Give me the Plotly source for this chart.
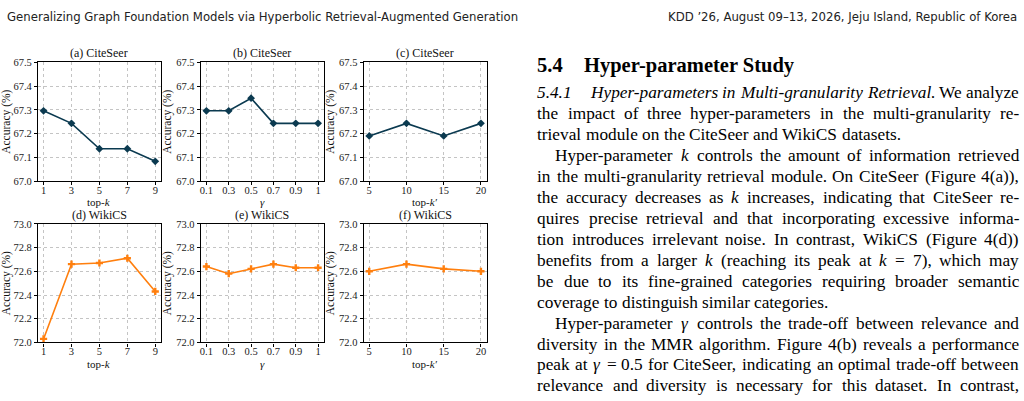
import plotly.graph_objects as go

W, H = 1024, 401

# ---------------- data ----------------
topk = ["1", "3", "5", "7", "9"]
gamma = ["0.1", "0.3", "0.5", "0.7", "0.9", "1"]
topk2 = ["5", "10", "15", "20"]

cite_topk = [67.296, 67.243, 67.136, 67.136, 67.083]
cite_gamma = [67.296, 67.296, 67.349, 67.243, 67.243, 67.243]
cite_topk2 = [67.19, 67.243, 67.19, 67.243]

wiki_topk = [72.03, 72.66, 72.67, 72.71, 72.43]
wiki_gamma = [72.64, 72.58, 72.62, 72.66, 72.63, 72.63]
wiki_topk2 = [72.60, 72.66, 72.62, 72.60]

panel_titles = ["(a) CiteSeer", "(b) CiteSeer", "(c) CiteSeer",
                "(d) WikiCS", "(e) WikiCS", "(f) WikiCS"]
x_titles = ["top-<i>k</i>", "<i>γ</i>", "top-<i>k′</i>"]
y_title = "Accuracy (%)"
y_ranges = [[67.0, 67.5], [72.0, 73.0]]
y_dticks = [0.1, 0.2]

header_left = "Generalizing Graph Foundation Models via Hyperbolic Retrieval-Augmented Generation"
header_right = "KDD ’26, August 09–13, 2026, Jeju Island, Republic of Korea"

heading_num = "5.4"
heading_txt = "Hyper-parameter Study"
sub_num = "5.4.1"

def it(s):
    return " ".join("<i>%s</i>" % w for w in s.split(" "))

# (text, indent flag, justify flag)
body = [
    (it("Hyper-parameters in Multi-granularity Retrieval.") + " We analyze", "sub", True),
    ("the impact of three hyper-parameters in the multi-granularity re-", "", True),
    ("trieval module on the CiteSeer and WikiCS datasets.", "", False),
    ("Hyper-parameter <i>k</i> controls the amount of information retrieved", "ind", True),
    ("in the multi-granularity retrieval module. On CiteSeer (Figure 4(a)),", "", True),
    ("the accuracy decreases as <i>k</i> increases, indicating that CiteSeer re-", "", True),
    ("quires precise retrieval and that incorporating excessive informa-", "", True),
    ("tion introduces irrelevant noise. In contrast, WikiCS (Figure 4(d))", "", True),
    ("benefits from a larger <i>k</i> (reaching its peak at <i>k</i> = 7), which may", "", True),
    ("be due to its fine-grained categories requiring broader semantic", "", True),
    ("coverage to distinguish similar categories.", "", False),
    ("Hyper-parameter <i>γ</i> controls the trade-off between relevance and", "ind", True),
    ("diversity in the MMR algorithm. Figure 4(b) reveals a performance", "", True),
    ("peak at <i>γ</i> = 0.5 for CiteSeer, indicating an optimal trade-off between", "", True),
    ("relevance and diversity is necessary for this dataset. In contrast,", "", True),
]

# ---------------- style / geometry ----------------
SERIF = "Liberation Serif"
NAVY = "#0b3a50"
ORANGE = "#ff7f0e"
colors = [NAVY, ORANGE]
symbols = ["diamond", "cross"]
col_left = [37, 200, 363]
col_w = 123
row_top = [59, 225]
row_h = 122

xcats = [topk, gamma, topk2]
series = [[cite_topk, cite_gamma, cite_topk2], [wiki_topk, wiki_gamma, wiki_topk2]]

fig = go.Figure()
layout = {}
annotations = []

for r in range(2):
    for c in range(3):
        i = r * 3 + c + 1
        xs = xcats[c]
        ys = series[r][c]
        n = len(xs)
        fig.add_trace(go.Scatter(
            x=xs, y=ys, mode="lines+markers",
            line=dict(color=colors[r], width=1.6),
            marker=dict(symbol=symbols[r], size=6, color=colors[r]),
            xaxis="x%d" % i, yaxis="y%d" % i, showlegend=False, cliponaxis=False))
        x0 = col_left[c] / W
        x1 = (col_left[c] + col_w) / W
        y1 = 1 - row_top[r] / H
        y0 = 1 - (row_top[r] + row_h) / H
        pad = 0.05 * (n - 1)
        common = dict(showline=True, mirror=True, linecolor="black", linewidth=1.2,
                      ticks="outside", ticklen=3, tickwidth=1, tickcolor="black",
                      showgrid=True, gridcolor="#c4c4c4", griddash="dot", gridwidth=1,
                      zeroline=False, tickfont=dict(family=SERIF, size=10.5, color="#222"))
        xa = dict(common, domain=[x0, x1], anchor="y%d" % i, type="category",
                  categoryorder="array", categoryarray=xs,
                  range=[-pad, n - 1 + pad], ticklabelstandoff=-4)
        ya = dict(common, domain=[y0, y1], anchor="x%d" % i, range=y_ranges[r],
                  dtick=y_dticks[r], tick0=y_ranges[r][0], tickformat=".1f",
                  title=dict(text=y_title, font=dict(family=SERIF, size=11.5, color="#111"),
                             standoff=2))
        layout["xaxis" if i == 1 else "xaxis%d" % i] = xa
        layout["yaxis" if i == 1 else "yaxis%d" % i] = ya
        annotations.append(dict(text=panel_titles[i - 1], x=(x0 + x1) / 2, y=y1,
                                xref="paper", yref="paper", xanchor="center", yanchor="bottom",
                                yshift=0, showarrow=False,
                                font=dict(family=SERIF, size=12, color="#111")))
        annotations.append(dict(text=x_titles[c], x=(x0 + x1) / 2,
                                y=1 - (row_top[r] + row_h + 22) / H,
                                xref="paper", yref="paper", xanchor="center", yanchor="middle",
                                showarrow=False, borderpad=0,
                                font=dict(family=SERIF, size=11, color="#111")))

# ---------------- text column (justified, Times metrics) ----------------
ROMAN = dict(zip(" !\"#$%&'()*+,-./0123456789:;<=>?",
                 [250, 333, 408, 500, 500, 833, 778, 333, 333, 333, 500, 564, 250, 333, 250, 278,
                  500, 500, 500, 500, 500, 500, 500, 500, 500, 500, 278, 278, 564, 564, 564, 444]))
ROMAN.update(dict(zip("ABCDEFGHIJKLMNOPQRSTUVWXYZ",
                      [722, 667, 667, 722, 611, 556, 722, 722, 333, 389, 722, 611, 889, 722, 722,
                       556, 722, 667, 556, 611, 722, 722, 944, 722, 722, 611])))
ROMAN.update(dict(zip("abcdefghijklmnopqrstuvwxyz",
                      [444, 500, 444, 500, 444, 333, 500, 500, 278, 278, 500, 278, 778, 500, 500,
                       500, 500, 333, 389, 278, 500, 500, 722, 500, 500, 444])))
ROMAN["γ"] = 411
ITALIC = dict(ROMAN)
ITALIC.update(dict(zip("ABCDEFGHIJKLMNOPQRSTUVWXYZ",
                       [611, 611, 667, 722, 611, 611, 722, 722, 333, 444, 667, 556, 833, 667, 722,
                        611, 722, 611, 500, 556, 722, 611, 833, 611, 556, 556])))
ITALIC.update(dict(zip("abcdefghijklmnopqrstuvwxyz",
                       [500, 500, 444, 500, 444, 278, 500, 500, 278, 278, 444, 278, 722, 500, 500,
                        500, 500, 389, 389, 278, 500, 444, 667, 444, 444, 389])))
ITALIC["γ"] = 440
ITALIC["-"] = 333


def width_em(word):
    w = 0
    itl = False
    k = 0
    while k < len(word):
        if word.startswith("<i>", k):
            itl = True
            k += 3
            continue
        if word.startswith("</i>", k):
            itl = False
            k += 4
            continue
        tab = ITALIC if itl else ROMAN
        w += tab.get(word[k], 500)
        k += 1
    if word.endswith("</i>"):
        w += 60  # italic correction
    return w / 1000.0


TX0, TX1 = 536, 1018
INDENT = 18
line_y0, line_dy = 90, 21.55
sub_em = width_em("<i>%s</i>" % sub_num)

# font size: as large as possible while every justified line keeps >= 0.2em spaces
FS = 18.5
for line, kind, just in body:
    if not just:
        continue
    words = line.split(" ")
    em = sum(width_em(w) for w in words) + 0.2 * (len(words) - 1)
    if kind == "sub":
        em += sub_em + 1.0
    avail = TX1 - TX0 - (INDENT if kind == "ind" else 0)
    FS = min(FS, avail / em)


def txt(s, xpx, ypx, size, anchor="left", family=SERIF, color="#000"):
    annotations.append(dict(text=s, x=xpx / W, y=1 - ypx / H, xref="paper", yref="paper",
                            xanchor=anchor, yanchor="middle", showarrow=False,
                            borderpad=0, font=dict(family=family, size=size, color=color)))


# heading
txt("<b>%s</b>" % heading_num, TX0, 62, 20.5)
txt("<b>%s</b>" % heading_txt, 583, 62, 20.5)

for k, (line, kind, just) in enumerate(body):
    ypx = line_y0 + k * line_dy
    start = TX0
    if kind == "sub":
        txt("<i>%s</i>" % sub_num, TX0, ypx, FS)
        start = TX0 + sub_em * FS + FS
    elif kind == "ind":
        start = TX0 + INDENT
    words = line.split(" ")
    widths = [width_em(w) * FS for w in words]
    if just and len(words) > 1:
        gap = (TX1 - start - sum(widths)) / (len(words) - 1)
    else:
        gap = 0.25 * FS
    x = start
    for w, wd in zip(words, widths):
        txt(w, x, ypx, FS)
        x += wd + gap

# running header
HFONT = "Liberation Sans Narrow, DejaVu Sans Condensed, Arial Narrow, sans-serif"
txt(header_left, 5, 12, 13, family=HFONT, color="#222")
txt(header_right, 1018, 12, 13, anchor="right", family=HFONT, color="#222")

layout.update(dict(width=W, height=H, margin=dict(l=0, r=0, t=0, b=0),
                   paper_bgcolor="white", plot_bgcolor="white",
                   annotations=annotations, showlegend=False))
fig.update_layout(**layout)
fig.write_html("out.html")
